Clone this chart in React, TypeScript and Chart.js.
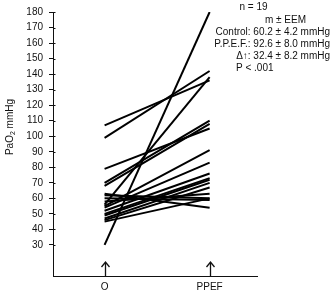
import React, { useEffect, useRef } from "react";
import { Chart, registerables } from "chart.js";

Chart.register(...registerables);

const categories = ["O", "PPEF"];
const controlValues = [107, 99, 30, 56, 79, 70, 68, 63, 62, 60, 58, 55, 54, 52, 50, 49, 47, 46, 45];
const ppefValues = [136, 142, 180, 138, 105, 110, 108, 54, 60, 59, 63, 91, 83, 76, 73, 72, 70, 67, 60];
const yTicksShown = { min: 30, max: 180, step: 10 };
const yTitle = ["PaO", "2", " mmHg"];
const noteLines = [
  "n = 19",
  "m ± EEM",
  "Control: 60.2 ± 4.2 mmHg",
  "P.P.E.F.: 92.6 ± 8.0 mmHg",
  "Δ↑: 32.4 ± 8.2 mmHg",
  "P < .001",
];

const FONT = "Liberation Sans, Arial, Helvetica, sans-serif";

const decorPlugin = {
  id: "decor",
  afterDraw(chart: any) {
    const ctx = chart.ctx;
    const area = chart.chartArea;
    const xs = chart.scales.x;
    const ys = chart.scales.y;
    ctx.save();
    ctx.strokeStyle = "#111";
    ctx.lineWidth = 1;
    ys.ticks.forEach((t: any) => {
      const py = Math.round(ys.getPixelForValue(t.value)) + 0.5;
      ctx.beginPath();
      ctx.moveTo(area.left, py);
      ctx.lineTo(area.left + 2.5, py);
      ctx.stroke();
    });
    ctx.lineWidth = 1.3;
    categories.forEach((_, i) => {
      const px = Math.round(xs.getPixelForValue(i)) + 0.5;
      const base = area.bottom;
      const tip = base - 14;
      ctx.beginPath();
      ctx.moveTo(px, base);
      ctx.lineTo(px, tip);
      ctx.moveTo(px - 4, tip + 5);
      ctx.lineTo(px, tip);
      ctx.lineTo(px + 4, tip + 5);
      ctx.stroke();
    });
    ctx.fillStyle = "#111";
    ctx.translate(10, 127);
    ctx.rotate(-Math.PI / 2);
    ctx.textBaseline = "middle";
    ctx.font = `10px ${FONT}`;
    const w0 = ctx.measureText(yTitle[0]).width;
    ctx.font = `7px ${FONT}`;
    const w1 = ctx.measureText(yTitle[1]).width;
    ctx.font = `10px ${FONT}`;
    const w2 = ctx.measureText(yTitle[2]).width;
    let sx = -(w0 + w1 + w2) / 2;
    ctx.textAlign = "left";
    ctx.fillText(yTitle[0], sx, 0);
    sx += w0;
    ctx.font = `7px ${FONT}`;
    ctx.fillText(yTitle[1], sx, 3);
    sx += w1;
    ctx.font = `10px ${FONT}`;
    ctx.fillText(yTitle[2], sx, 0);
    ctx.restore();

    ctx.save();
    ctx.fillStyle = "#111";
    ctx.font = `10px ${FONT}`;
    ctx.textBaseline = "middle";
    const spots: [string, number, number][] = [
      ["center", 253.5, 7],
      ["center", 285.5, 20],
      ["right", 330, 32],
      ["right", 330, 44],
      ["right", 330, 56],
      ["left", 236, 68],
    ];
    noteLines.forEach((s, i) => {
      const [al, x, y] = spots[i];
      ctx.textAlign = al as CanvasTextAlign;
      ctx.fillText(s, x, y);
    });
    ctx.restore();
  },
};

export default function App() {
  const ref = useRef<HTMLCanvasElement>(null);
  useEffect(() => {
    if (!ref.current) return;
    const datasets = controlValues.map((c, i) => ({
      data: [
        { x: 0, y: c },
        { x: 1, y: ppefValues[i] },
      ],
      borderColor: "#000",
      borderWidth: 2,
      pointRadius: 0,
      fill: false,
    }));
    const chart = new Chart(ref.current, {
      type: "line",
      data: { datasets },
      plugins: [decorPlugin],
      options: {
        animation: false,
        responsive: false,
        events: [],
        layout: { padding: { left: 0, right: 74, top: 6, bottom: 0 } },
        plugins: { legend: { display: false }, tooltip: { enabled: false }, title: { display: false } },
        scales: {
          x: {
            type: "linear",
            min: -0.491,
            max: 1.451,
            afterFit: (s: any) => {
              s.height = 19;
            },
            afterBuildTicks: (s: any) => {
              s.ticks = categories.map((_, i) => ({ value: i }));
            },
            ticks: {
              callback: (v: any) => categories[v] ?? "",
              color: "#111",
              font: { family: FONT, size: 10 },
              padding: 5,
              maxRotation: 0,
            },
            grid: { display: true, drawOnChartArea: false, drawTicks: false },
            border: { display: true, color: "#111", width: 1 },
          },
          y: {
            type: "linear",
            min: 10,
            max: 180,
            afterFit: (s: any) => {
              s.width = 53;
            },
            afterBuildTicks: (s: any) => {
              const t: any[] = [];
              for (let v = yTicksShown.min; v <= yTicksShown.max; v += yTicksShown.step) t.push({ value: v });
              s.ticks = t;
            },
            ticks: {
              color: "#111",
              font: { family: FONT, size: 10 },
              padding: 6,
            },
            grid: { drawOnChartArea: false, drawTicks: true, tickLength: 4, color: "#111" },
            border: { display: true, color: "#111", width: 1 },
          },
        },
      },
    });
    return () => chart.destroy();
  }, []);
  return (
    <div style={{ position: "fixed", left: 0, top: 0, width: 331, height: 295, background: "#fff" }}>
      <canvas ref={ref} width={331} height={295} />
    </div>
  );
}
